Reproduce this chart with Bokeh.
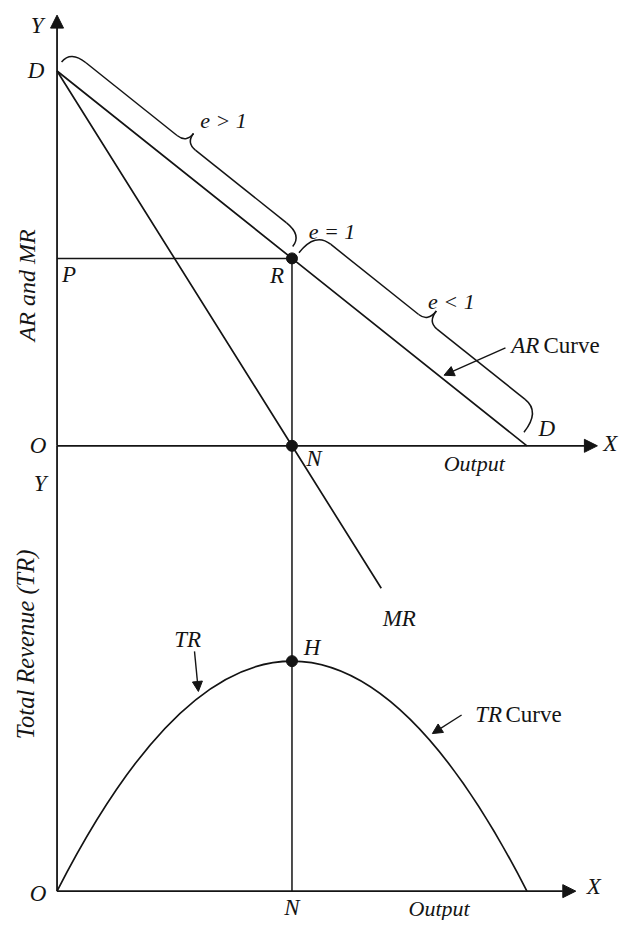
import math
import numpy as np
from bokeh.plotting import figure
from bokeh.models import Range1d, Arrow, NormalHead
from bokeh.core.properties import value
from bokeh.embed import file_html
from bokeh.resources import INLINE

# ---------------- data ----------------
output_max = 10.0          # output where AR reaches zero (point D on X axis)
price_max = 10.0           # price intercept D on Y axis
unit_elastic_q = 5.0       # output ON where e = 1
ar_q = [0.0, 5.0, 10.0]    # AR (demand) curve
ar_p = [10.0, 5.0, 0.0]
mr_q = [0.0, 5.0, 6.9]     # MR curve (continues below the X axis)
mr_p = [10.0, 0.0, -3.8]
tr_q = [0, 1, 2, 3, 4, 5, 6, 7, 8, 9, 10]          # TR curve
tr_v = [0, 9, 16, 21, 24, 25, 24, 21, 16, 9, 0]
axis_x_end = 11.5          # top X arrow tip
axis_x_end_tr = 11.04      # bottom X arrow tip
axis_y_end = 11.49         # Y arrow tip

# ---------------- layout ----------------
W, H = 620, 920            # figure size
RW, RH = 636.0, 940.0      # reference picture size
X0, X1 = -58 / 48.2, (RW - 58) / 48.2
Y0, Y1 = (455 - RH) / 38.3, 455 / 38.3
T0, T1 = (910 - RH) / 9.4, 910 / 9.4
INK = "#141414"
FONT = value("Liberation Serif")

def q_of(px):  # reference pixel -> output
    return X0 + px / RW * (X1 - X0)

def p_of(py):  # reference pixel -> price
    return Y1 - py / RH * (Y1 - Y0)

def t_of(py):  # reference pixel -> TR
    return T1 - py / RH * (T1 - T0)

def fx(q):
    return (q - X0) / (X1 - X0) * RW

def fy(p):
    return (Y1 - p) / (Y1 - Y0) * RH

p = figure(width=W, height=H, x_range=Range1d(X0, X1), y_range=Range1d(Y0, Y1),
           output_backend="svg", toolbar_location=None, title=None,
           x_axis_location=None, y_axis_location=None, min_border=0,
           background_fill_color="white", border_fill_color="white")
p.extra_y_ranges = {"tr": Range1d(T0, T1)}
p.grid.visible = False
p.outline_line_color = None

def head(sz=13):
    return NormalHead(size=sz, fill_color=INK, line_color=INK, line_width=1)

# ---------------- axes ----------------
p.add_layout(Arrow(end=head(), x_start=0, y_start=0, x_end=0, y_end=axis_y_end,
                   line_color=INK, line_width=1.8))
p.add_layout(Arrow(end=head(), x_start=0, y_start=0, x_end=axis_x_end, y_end=0,
                   line_color=INK, line_width=1.8))
p.add_layout(Arrow(end=head(), x_start=0, y_start=0, x_end=axis_x_end_tr, y_end=0,
                   line_color=INK, line_width=1.8, y_range_name="tr"))
tr_at_top_origin = t_of(fy(0))
p.segment(x0=[0], y0=[0], x1=[0], y1=[tr_at_top_origin], y_range_name="tr",
          line_color=INK, line_width=1.8)

# ---------------- curves ----------------
p.line(ar_q, ar_p, line_color=INK, line_width=1.7)
p.line(mr_q, mr_p, line_color=INK, line_width=1.7)
ipk = int(np.argmax(tr_v))
p.quadratic(x0=[tr_q[0]], y0=[tr_v[0]], x1=[tr_q[-1]], y1=[tr_v[-1]],
            cx=[tr_q[ipk]], cy=[2 * tr_v[ipk]], y_range_name="tr",
            line_color=INK, line_width=1.7)

r_p = float(np.interp(unit_elastic_q, ar_q, ar_p))
p.segment(x0=[0], y0=[r_p], x1=[unit_elastic_q], y1=[r_p], line_color=INK, line_width=1.5)
p.segment(x0=[unit_elastic_q], y0=[r_p], x1=[unit_elastic_q], y1=[0], line_color=INK, line_width=1.5)
p.segment(x0=[unit_elastic_q], y0=[0], x1=[unit_elastic_q], y1=[tr_at_top_origin],
          y_range_name="tr", line_color=INK, line_width=1.5)

# points R, N, H
p.scatter([unit_elastic_q, unit_elastic_q], [r_p, 0], size=11, color=INK)
p.scatter([tr_q[ipk]], [tr_v[ipk]], size=11, color=INK, y_range_name="tr")

# ---------------- braces ----------------
def brace(a, b, s0, s1, e, h, t, r_end, r_tip):
    ax, ay = fx(a[0]), fy(a[1])
    bx, by = fx(b[0]), fy(b[1])
    dx, dy = bx - ax, by - ay
    L = math.hypot(dx, dy)
    ux, uy = dx / L, dy / L
    nx, ny = uy, -ux
    if s1 < 0:
        s1 = L + s1

    def P(s, o):
        px, py = ax + s * ux + o * nx, ay + s * uy + o * ny
        return q_of(px), p_of(py)

    m = (s0 + s1) / 2
    quads = [((s0, e), (s0, h), (s0 + r_end, h)),
             ((m - r_tip, h), (m, h), (m, t)),
             ((m, t), (m, h), (m + r_tip, h)),
             ((s1 - r_end, h), (s1, h), (s1, e))]
    segs = [((s0 + r_end, h), (m - r_tip, h)), ((m + r_tip, h), (s1 - r_end, h))]
    for st, c, en in quads:
        (x0, y0), (cx, cy), (x1, y1) = P(*st), P(*c), P(*en)
        p.quadratic(x0=[x0], y0=[y0], x1=[x1], y1=[y1], cx=[cx], cy=[cy],
                    line_color=INK, line_width=1.5)
    for st, en in segs:
        (x0, y0), (x1, y1) = P(*st), P(*en)
        p.segment(x0=[x0], y0=[y0], x1=[x1], y1=[y1], line_color=INK, line_width=1.5)
    return P(m, t)

D_pt = (ar_q[0], ar_p[0])
R_pt = (unit_elastic_q, r_p)
E_pt = (ar_q[-1], ar_p[-1])
tip1 = brace(D_pt, R_pt, -2, -7, 10, 25, 37, 20, 12)
tip2 = brace(R_pt, E_pt, 2, -11, 9, 36, 50, 20, 12)

# ---------------- labels ----------------
def label(x, y, txt, dx=0, dy=0, size=23, style="italic", align="center",
          baseline="middle", rng="default", angle=0.0):
    kw = {}
    if rng != "default":
        kw["y_range_name"] = rng
    p.text(x=[x], y=[y], text=[txt], x_offset=dx, y_offset=dy, angle=angle,
           text_font=FONT, text_font_style=style, text_font_size=f"{size}px",
           text_align=align, text_baseline=baseline, text_color=INK, **kw)

label(0, axis_y_end, "Y", -20, 10)
label(D_pt[0], D_pt[1], "D", -21, 0)
label(0, r_p, "P", 12, 16)
label(unit_elastic_q, r_p, "R", -15, 17)
label(0, 0, "O", -19, 0)
label(unit_elastic_q, 0, "N", 22, 13)
label(q_of(486), 0, "Output", 0, 18, size=22)
label(E_pt[0], E_pt[1], "D", 20, -17)
label(axis_x_end, 0, "X", 13, -2)
label(tip1[0], tip1[1], "e > 1", 30, -13, size=22)
label(R_pt[0], R_pt[1], "e = 1", 40, -27, size=22)
label(tip2[0], tip2[1], "e < 1", 15, -10, size=22)
label(q_of(524), p_of(353), "AR", 0, 0, align="left")
label(q_of(557), p_of(353), "Curve", 0, 0, style="normal", align="left")
label(mr_q[-1], mr_p[-1], "MR", 18, 30)

# AR Curve arrow
ar_tip_q = q_of(455)
p.add_layout(Arrow(end=head(10), x_start=q_of(518), y_start=p_of(355),
                   x_end=ar_tip_q, y_end=float(np.interp(ar_tip_q, ar_q, ar_p)) + 0.12,
                   line_color=INK, line_width=1.4))

# bottom panel labels
label(0, 0, "Y", -17, 38)
label(0, 0, "O", -19, 2, rng="tr")
label(unit_elastic_q, 0, "N", 0, 16, rng="tr")
label(q_of(450), 0, "Output", 0, 17, size=22, rng="tr")
label(axis_x_end_tr, 0, "X", 18, -5, rng="tr")
label(tr_q[ipk], tr_v[ipk], "H", 20, -14, rng="tr")
label(q_of(192), t_of(653), "TR", rng="tr")
label(q_of(487), t_of(730), "TR", align="left", rng="tr")
label(q_of(518), t_of(730), "Curve", style="normal", align="left", rng="tr")
p.add_layout(Arrow(end=head(10), x_start=q_of(199), y_start=t_of(665),
                   x_end=q_of(203), y_end=t_of(706), line_color=INK, line_width=1.4,
                   y_range_name="tr"))
p.add_layout(Arrow(end=head(10), x_start=q_of(473), y_start=t_of(730),
                   x_end=q_of(443), y_end=t_of(749), line_color=INK, line_width=1.4,
                   y_range_name="tr"))

# rotated axis titles
label(q_of(27), p_of(291), "AR and MR", size=24, angle=math.pi / 2)
label(q_of(26), t_of(658), "Total Revenue (TR)", size=24.5, angle=math.pi / 2, rng="tr")

open("out.html", "w").write(file_html(p, INLINE))
